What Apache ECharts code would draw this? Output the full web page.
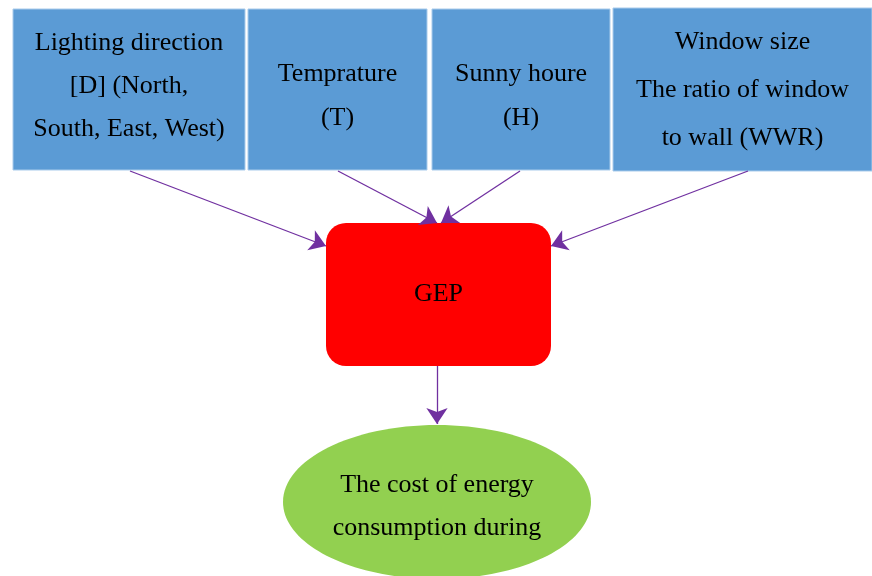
<!DOCTYPE html>
<html lang="en">
<head>
    <meta charset="UTF-8">
    <title>GEP diagram</title>
    <script type="text/javascript" src="https://cdn.jsdelivr.net/npm/echarts@6/dist/echarts.min.js"></script>
    <style>
        html, body { margin: 0; padding: 0; background: #fff; }
    </style>
</head>
<body>
    <div id="main" style="width: 872px; height: 576px;"></div>
    <script type="text/javascript">
        // node texts
        var nodeLabels = [
            'Lighting direction\n[D] (North,\nSouth, East, West)',
            'Temprature\n(T)',
            'Sunny houre\n(H)',
            'Window size\nThe ratio of window\nto wall (WWR)',
            'GEP',
            'The cost of energy\nconsumption during'
        ];
        var nodeKinds = ['box', 'box', 'box', 'box', 'round', 'ellipse'];
        // node extents in page units: x0, y0, x1, y1
        var nodeBounds = [
            [13, 9, 245, 170],
            [248, 9, 427, 170],
            [432, 9, 610, 170],
            [613, 8, 872, 171],
            [326, 223, 551, 366],
            [283, 425, 591, 579]
        ];
        // arrows: from point, to point
        var arrowFrom = [[130, 171], [338, 171], [520, 171], [748, 171], [437, 366]];
        var arrowTo = [[326, 246], [437, 223], [441, 223], [551, 246], [437, 424]];

        var fillColors = { box: '#5B9BD5', round: '#FF0000', ellipse: '#92D050' };
        var lineHeights = [43, 44, 44, 48, 30, 43];
        var textShiftY = [-3, 7, 7, 1, 0, 5];

        var myChart = echarts.init(document.getElementById('main'));

        var nodeData = nodeBounds.map(function (b, i) {
            return { value: b.concat([i]) };
        });
        var arrowData = arrowFrom.map(function (p, i) {
            return { coords: [p, arrowTo[i]] };
        });

        function renderNode(params, api) {
            var i = api.value(4);
            var p0 = api.coord([api.value(0), api.value(1)]);
            var p1 = api.coord([api.value(2), api.value(3)]);
            var x = Math.min(p0[0], p1[0]), y = Math.min(p0[1], p1[1]);
            var w = Math.abs(p1[0] - p0[0]), h = Math.abs(p1[1] - p0[1]);
            var kind = nodeKinds[i];
            var text = {
                type: 'text',
                style: {
                    text: nodeLabels[i],
                    font: '26px "Liberation Serif", serif',
                    fill: '#000',
                    align: 'center',
                    verticalAlign: 'middle',
                    lineHeight: lineHeights[i]
                }
            };
            var shape;
            if (kind === 'ellipse') {
                shape = {
                    type: 'ellipse',
                    shape: { cx: x + w / 2, cy: y + h / 2, rx: w / 2, ry: h / 2 },
                    style: { fill: fillColors[kind] }
                };
            } else {
                shape = {
                    type: 'rect',
                    shape: { x: x, y: y, width: w, height: h, r: kind === 'round' ? 20 : 0 },
                    style: kind === 'box'
                        ? { fill: fillColors[kind], stroke: '#A9CBEB', lineWidth: 1 }
                        : { fill: fillColors[kind] }
                };
            }
            shape.textContent = text;
            shape.textConfig = { position: 'inside', offset: [0, textShiftY[i]] };
            return shape;
        }

        var option = {
            animation: false,
            grid: { left: 0, right: 0, top: 0, bottom: 0 },
            xAxis: { type: 'value', min: 0, max: 872, show: false },
            yAxis: { type: 'value', min: 0, max: 576, inverse: true, show: false },
            series: [
                {
                    type: 'custom',
                    renderItem: renderNode,
                    data: nodeData,
                    clip: false,
                    z: 1
                },
                {
                    type: 'lines',
                    coordinateSystem: 'cartesian2d',
                    data: arrowData,
                    symbol: ['none', 'arrow'],
                    symbolSize: 16,
                    lineStyle: { color: '#7030A0', width: 1.3, opacity: 1 },
                    z: 2
                }
            ]
        };

        myChart.setOption(option);
    </script>
</body>
</html>
